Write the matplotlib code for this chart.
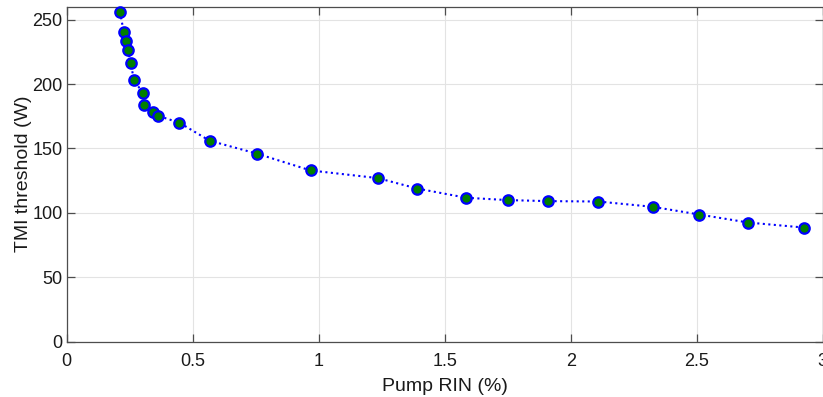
import numpy as np
import matplotlib
matplotlib.use('Agg')
import matplotlib.pyplot as plt

plt.rcParams['font.family'] = ['Liberation Sans', 'DejaVu Sans']

# pump RIN (%) vs. measured TMI threshold (W)
rin = [0.211, 0.227, 0.237, 0.243, 0.254, 0.267, 0.302, 0.308, 0.342, 0.364,
       0.447, 0.567, 0.756, 0.968, 1.234, 1.390, 1.586, 1.751, 1.911, 2.109,
       2.325, 2.510, 2.704, 2.925]
tmi = [256.0, 240.1, 233.1, 226.1, 216.0, 203.1, 193.0, 183.9, 178.0, 175.2,
       170.0, 156.0, 145.9, 132.9, 127.0, 118.9, 111.7, 109.9, 109.1, 108.8,
       104.7, 98.7, 92.5, 88.6]

xticks = [0, 0.5, 1, 1.5, 2, 2.5, 3]
xticklabels = ['0', '0.5', '1', '1.5', '2', '2.5', '3']
yticks = [0, 50, 100, 150, 200, 250]

fig = plt.figure(figsize=(8.23, 3.97), dpi=100)
ax = fig.add_axes([66.7 / 823, 1 - 341.7 / 397, (822.7 - 66.7) / 823, (341.7 - 6.7) / 397])

ax.plot(rin, tmi, ':', color='blue', lw=1.5,
        marker='o', markersize=7.5, markerfacecolor='#007f00',
        markeredgecolor='blue', markeredgewidth=1.6, clip_on=False, zorder=3)

ax.set_xlim(0, 3)
ax.set_ylim(0, 260)
ax.set_xticks(xticks)
ax.set_xticklabels(xticklabels)
ax.set_yticks(yticks)

ax.grid(True, color='#e3e3e3', lw=0.8)
ax.set_axisbelow(True)
for s in ax.spines.values():
    s.set_color('#4d4d4d')
    s.set_linewidth(0.9)
ax.tick_params(direction='in', length=6, width=0.9, color='#4d4d4d',
               top=True, right=True, labelsize=13, labelcolor='#1a1a1a')
ax.tick_params(axis='x', pad=8)
ax.tick_params(axis='y', pad=3)

ax.set_xlabel('Pump RIN (%)', fontsize=14, color='#1a1a1a', labelpad=6)
ax.set_ylabel('TMI threshold (W)', fontsize=14, color='#1a1a1a', labelpad=0)

fig.savefig('out.png', dpi=100)
